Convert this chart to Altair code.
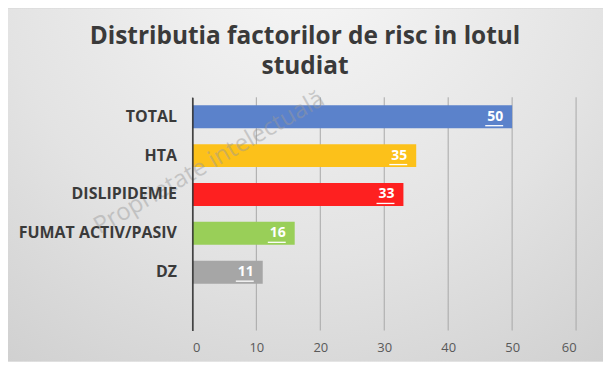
import altair as alt
import pandas as pd

categories = ["TOTAL", "HTA", "DISLIPIDEMIE", "FUMAT ACTIV/PASIV", "DZ"]
values = [50, 35, 33, 16, 11]
colors = ["#5b82cb", "#fcc11a", "#fe2020", "#99cf58", "#a6a6a6"]
x_ticks = [0, 10, 20, 30, 40, 50, 60]
title_lines = ["Distributia factorilor de risc in lotul", "studiat"]
watermark = "Proprietate intelectuală"

df = pd.DataFrame({"cat": categories, "val": values, "color": colors})
ticks_df = pd.DataFrame({"t": x_ticks})
y_domain = categories + [""]

FONT = "Open Sans"

x_scale = alt.Scale(domain=[0, 60], nice=False)
y_scale = alt.Scale(domain=y_domain, paddingInner=0.41, paddingOuter=0.205)

y_enc = alt.Y("cat:N", sort=y_domain, scale=y_scale,
              axis=alt.Axis(title=None, ticks=False, domain=True, domainColor="#333333",
                            domainWidth=1.5, labelFont=FONT, labelFontSize=16,
                            labelFontWeight="bold", labelColor="#3a3a3a", labelPadding=16,
                            grid=False, zindex=1))
x_enc = alt.X("val:Q", scale=x_scale,
              axis=alt.Axis(title=None, values=x_ticks, ticks=False, domain=False,
                            grid=False, labelFont=FONT, labelFontSize=13,
                            labelColor="#595959", labelPadding=11, zindex=1))

# decorative gradient backdrop behind the whole chart
backdrop = alt.Chart(pd.DataFrame({"k": [0]})).mark_rect(
    fill={"gradient": "radial", "x1": 0.5, "y1": 0.1, "r1": 0.0,
          "x2": 0.5, "y2": 0.1, "r2": 0.95,
          "stops": [{"offset": 0, "color": "#f7f7f7"},
                    {"offset": 0.55, "color": "#e3e3e3"},
                    {"offset": 1, "color": "#cbcbcb"}]}
).encode(x=alt.value(-185), x2=alt.value(412), y=alt.value(-89), y2=alt.value(265))

grid = alt.Chart(ticks_df).mark_rule(color="#a8a8a8", strokeWidth=1).encode(
    x=alt.X("t:Q", scale=x_scale), y=alt.value(0), y2=alt.value(234))

base = alt.Chart(df)

bars = base.mark_bar().encode(
    x=x_enc, y=y_enc,
    color=alt.Color("color:N", scale=None),
)

labels = base.mark_text(align="right", baseline="middle", dx=-9, color="white",
                        font=FONT, fontSize=14, fontWeight="bold").encode(
    x="val:Q", y=alt.Y("cat:N", sort=y_domain), text="val:Q")

underline = base.mark_rule(color="white", strokeWidth=1.3, xOffset=-27, x2Offset=-9,
                           yOffset=9).encode(
    x="val:Q", x2="val:Q", y=alt.Y("cat:N", sort=y_domain))

wm = alt.Chart(pd.DataFrame({"t": [watermark]})).mark_text(
    angle=330, font=FONT, fontSize=24, color="#9a9a9a", opacity=0.45,
    align="center", baseline="middle").encode(
    x=alt.value(17), y=alt.value(66), text="t:N")

title = alt.Chart(pd.DataFrame({"k": [0]})).mark_text(
    font=FONT, fontSize=24.5, fontWeight="bold", color="#3a3a3a",
    align="center", baseline="alphabetic", lineHeight=30).encode(
    x=alt.value(113), y=alt.value(-53), text=alt.value(title_lines))

chart = alt.layer(backdrop, grid, bars, labels, underline, wm, title).properties(
    width=385, height=234,
    autosize=alt.AutoSizeParams(type="none"),
    padding={"left": 185, "top": 89, "right": 27, "bottom": 31},
    background="#e2e2e2",
).configure_view(stroke=None)

chart.save("out.html", embed_options={"renderer": "svg", "actions": False})
